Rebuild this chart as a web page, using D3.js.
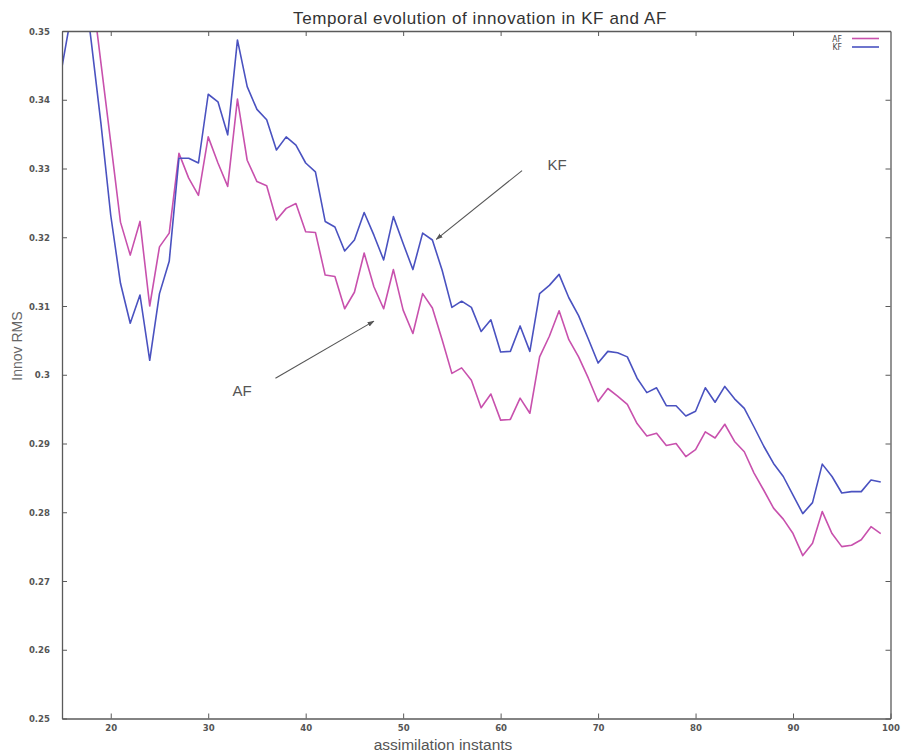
<!DOCTYPE html>
<html>
<head>
<meta charset="utf-8">
<script src="https://cdn.jsdelivr.net/npm/d3@7"></script>
<style>
  html, body { margin: 0; padding: 0; background: #ffffff; }
  svg { display: block; }
</style>
</head>
<body>
<div id="chart"></div>
<script>
// ---------------- data ----------------
const instants = d3.range(15, 100); // 15 .. 99
const kfValues = [
  0.3448, 0.3528, 0.3600, 0.3485, 0.3365, 0.3232, 0.3133, 0.3075, 0.3116, 0.3021,
  0.3118, 0.3165, 0.3315, 0.3315, 0.3308, 0.3408, 0.3397, 0.3349, 0.3487, 0.3419,
  0.3386, 0.3371, 0.3327, 0.3346, 0.3334, 0.3308, 0.3295, 0.3223, 0.3215, 0.3180,
  0.3196, 0.3236, 0.3203, 0.3167, 0.3230, 0.3191, 0.3153, 0.3206, 0.3196, 0.3152,
  0.3098, 0.3107, 0.3098, 0.3063, 0.3080, 0.3033, 0.3034, 0.3071, 0.3034, 0.3118,
  0.3130, 0.3146, 0.3112, 0.3086, 0.3052, 0.3017, 0.3034, 0.3032, 0.3026, 0.2995,
  0.2974, 0.2981, 0.2955, 0.2955, 0.2940, 0.2947, 0.2981, 0.2960, 0.2983, 0.2965,
  0.2951, 0.2924, 0.2896, 0.2871, 0.2852, 0.2825, 0.2798, 0.2814, 0.2870, 0.2852,
  0.2828, 0.2830, 0.2830, 0.2847, 0.2844
];
const afValues = [
  0.3720, 0.3680, 0.3620, 0.3568, 0.3453, 0.3338, 0.3222, 0.3174, 0.3223, 0.3100,
  0.3186, 0.3206, 0.3322, 0.3286, 0.3261, 0.3346, 0.3308, 0.3274, 0.3401, 0.3312,
  0.3281, 0.3275, 0.3225, 0.3242, 0.3249, 0.3208, 0.3207, 0.3145, 0.3143, 0.3096,
  0.3120, 0.3177, 0.3128, 0.3096, 0.3153, 0.3094, 0.3060, 0.3118, 0.3097, 0.3051,
  0.3002, 0.3010, 0.2992, 0.2952, 0.2972, 0.2934, 0.2935, 0.2966, 0.2944, 0.3026,
  0.3056, 0.3093, 0.3051, 0.3026, 0.2995, 0.2961, 0.2980, 0.2969, 0.2957, 0.2929,
  0.2911, 0.2915, 0.2897, 0.2900, 0.2881, 0.2891, 0.2917, 0.2908, 0.2928, 0.2903,
  0.2888, 0.2857, 0.2832, 0.2806, 0.2790, 0.2769, 0.2737, 0.2755, 0.2801, 0.2769,
  0.2750, 0.2752, 0.2760, 0.2779, 0.2769
];
const seriesNames = ["AF", "KF"];
const xTicks = [20, 30, 40, 50, 60, 70, 80, 90, 100];
const xTickLabels = ["20", "30", "40", "50", "60", "70", "80", "90", "100"];
const yTicks = [0.25, 0.26, 0.27, 0.28, 0.29, 0.30, 0.31, 0.32, 0.33, 0.34, 0.35];
const yTickLabels = ["0.25", "0.26", "0.27", "0.28", "0.29", "0.3", "0.31", "0.32", "0.33", "0.34", "0.35"];
const titleText = "Temporal evolution of innovation in KF and AF";
const xLabelText = "assimilation instants";
const yLabelText = "Innov RMS";
// annotations: label, text point (data), arrow start (data), arrow end (data)
const annotations = [
  { label: "KF", tx: 64.8, ty: 0.3298, sx: 62.2, sy: 0.3297, ex: 53.4, ey: 0.3197 },
  { label: "AF", tx: 32.5, ty: 0.2969, sx: 36.9, sy: 0.2995, ex: 47.0, ey: 0.3078 }
];

// ---------------- layout ----------------
const W = 901, H = 756;
const mLeft = 62, mRight = 890.5, mTop = 31, mBottom = 718.5;
const colAF = "#c851ad", colKF = "#4a52c0";
const axisCol = "#5a5a5a";
const tickFont = "'DejaVu Sans Condensed', 'Liberation Sans Narrow', sans-serif";

const svg = d3.select("#chart").append("svg")
  .attr("width", W).attr("height", H)
  .attr("viewBox", `0 0 ${W} ${H}`);

const x = d3.scaleLinear().domain([15, 100]).range([mLeft, mRight]);
const y = d3.scaleLinear().domain([0.25, 0.35]).range([mBottom, mTop]);

const defs = svg.append("defs");
defs.append("clipPath").attr("id", "plotclip")
  .append("rect").attr("x", mLeft).attr("y", mTop)
  .attr("width", mRight - mLeft).attr("height", mBottom - mTop);

defs.append("marker")
  .attr("id", "arrowhead")
  .attr("viewBox", "0 0 10 10")
  .attr("refX", 9).attr("refY", 5)
  .attr("markerWidth", 7).attr("markerHeight", 7)
  .attr("markerUnits", "userSpaceOnUse")
  .attr("orient", "auto")
  .append("path").attr("d", "M0,1.5 L10,5 L0,8.5 Z").attr("fill", "#555");

// lines
const line = d3.line().x((d, i) => x(instants[i])).y(d => y(d));
const g = svg.append("g").attr("clip-path", "url(#plotclip)");
g.append("path").datum(afValues).attr("d", line)
  .attr("fill", "none").attr("stroke", colAF).attr("stroke-width", 1.6)
  .attr("stroke-linejoin", "round");
g.append("path").datum(kfValues).attr("d", line)
  .attr("fill", "none").attr("stroke", colKF).attr("stroke-width", 1.6)
  .attr("stroke-linejoin", "round");

// axes (gnuplot-style inward ticks on all four sides)
function styleAxis(sel) {
  sel.select(".domain").attr("stroke", axisCol).attr("stroke-width", 1.3);
  sel.selectAll(".tick line").attr("stroke", axisCol).attr("stroke-width", 1);
  sel.selectAll(".tick text").attr("fill", "#555")
    .style("font-family", tickFont).style("font-size", "9.5px").style("font-weight", "bold");
}
const yAxisL = d3.axisLeft(y).tickValues(yTicks)
  .tickFormat((d, i) => yTickLabels[i]).tickSizeInner(-5).tickSizeOuter(0).tickPadding(12);
svg.append("g").attr("transform", `translate(${mLeft},0)`).call(yAxisL).call(styleAxis);

const xAxisB = d3.axisBottom(x).tickValues(xTicks)
  .tickFormat((d, i) => xTickLabels[i]).tickSizeInner(-5).tickSizeOuter(0).tickPadding(6);
svg.append("g").attr("transform", `translate(0,${mBottom})`).call(xAxisB).call(styleAxis);

const xAxisT = d3.axisTop(x).tickValues(xTicks.filter(v => v < 100))
  .tickFormat("").tickSizeInner(-5).tickSizeOuter(0);
svg.append("g").attr("transform", `translate(0,${mTop})`).call(xAxisT).call(styleAxis);

const yAxisR = d3.axisRight(y).tickValues(yTicks)
  .tickFormat("").tickSizeInner(-5).tickSizeOuter(0);
svg.append("g").attr("transform", `translate(${mRight},0)`).call(yAxisR).call(styleAxis);

// title & axis labels
svg.append("text").attr("x", 480).attr("y", 24).attr("text-anchor", "middle")
  .style("font-family", "'Liberation Sans', Arial, sans-serif").style("font-size", "17px")
  .style("letter-spacing", "0.6px")
  .attr("fill", "#333").text(titleText);
svg.append("text").attr("x", 443).attr("y", 750).attr("text-anchor", "middle")
  .style("font-family", "'Liberation Sans', Arial, sans-serif").style("font-size", "15.5px")
  .attr("fill", "#555").text(xLabelText);
svg.append("text").attr("transform", "translate(22,346) rotate(-90)").attr("text-anchor", "middle")
  .style("font-family", "'Liberation Sans', Arial, sans-serif").style("font-size", "14px")
  .attr("fill", "#666").text(yLabelText);

// legend
const legY = [38.5, 47];
const legCols = [colAF, colKF];
seriesNames.forEach((name, i) => {
  svg.append("text").attr("x", 842).attr("y", legY[i] + 3).attr("text-anchor", "end")
    .style("font-family", tickFont).style("font-size", "8.5px").attr("fill", "#444").text(name);
  svg.append("line").attr("x1", 852).attr("x2", 879).attr("y1", legY[i]).attr("y2", legY[i])
    .attr("stroke", legCols[i]).attr("stroke-width", 1.6);
});

// annotations
annotations.forEach(a => {
  svg.append("line")
    .attr("x1", x(a.sx)).attr("y1", y(a.sy)).attr("x2", x(a.ex)).attr("y2", y(a.ey))
    .attr("stroke", "#555").attr("stroke-width", 1.1).attr("marker-end", "url(#arrowhead)");
  svg.append("text").attr("x", x(a.tx)).attr("y", y(a.ty))
    .style("font-family", "'Liberation Sans', Arial, sans-serif").style("font-size", "15px")
    .attr("fill", "#555").text(a.label);
});
</script>
</body>
</html>
